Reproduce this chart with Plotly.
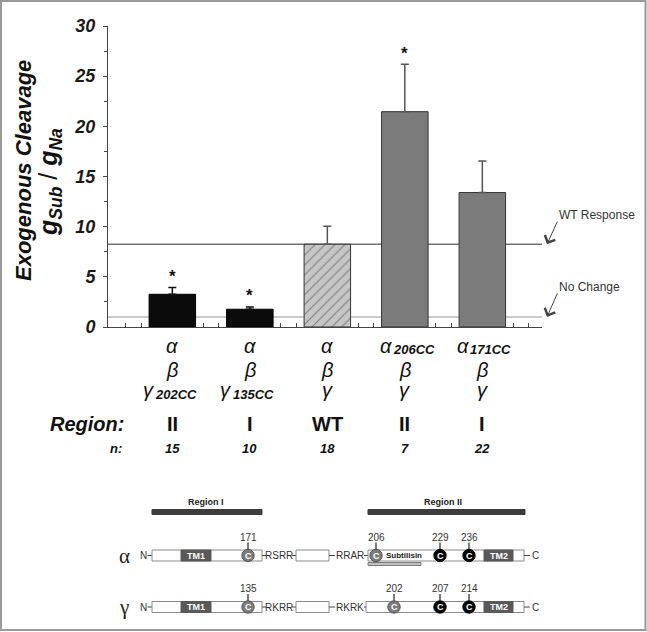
import plotly.graph_objects as go

# ---------------- data ----------------
x_pos = [0, 1, 2, 3, 4]
top_base = ["α", "α", "α", "α", "α"]
top_sub = ["", "", "", "206CC", "171CC"]
mid_labels = ["β", "β", "β", "β", "β"]
bottom_base = ["γ", "γ", "γ", "γ", "γ"]
bottom_sub = ["202CC", "135CC", "", "", ""]
region_labels = ["II", "I", "WT", "II", "I"]
n_labels = ["15", "10", "18", "7", "22"]
ratio_mean = [3.26, 1.77, 8.25, 21.46, 13.40]
ratio_sem = [0.67, 0.23, 1.80, 4.74, 3.15]
significant = [True, True, False, True, False]
bar_style = ["black", "black", "wt", "gray", "gray"]
wt_response = 8.25
no_change = 1.0

alpha_linkers = ["RSRR", "RRAR"]
gamma_linkers = ["RKRR", "RKRK"]
alpha_sites = ["171", "206", "229", "236"]
gamma_sites = ["135", "202", "207", "214"]
site_kind = ["mutated", "mutated", "native", "native"]

# ---------------- layout constants ----------------
W, H = 647, 632
PX_L, PX_R, PX_T, PX_B = 108, 542, 26, 327
ARIAL = "Arial, Liberation Sans, sans-serif"
SERIF = "Times New Roman, Liberation Serif, DejaVu Serif, serif"

fig = go.Figure()

styles = {
    "black": dict(color="#0b0b0b", line="#000000", err="#111111", pattern=False),
    "wt": dict(color="#c6c6c6", line="#333333", err="#555555", pattern=True),
    "gray": dict(color="#7b7b7b", line="#333333", err="#555555", pattern=False),
}
for i in range(len(x_pos)):
    s = styles[bar_style[i]]
    marker = dict(color=s["color"], line=dict(color=s["line"], width=1))
    if s["pattern"]:
        marker["pattern"] = dict(shape="/", fgcolor="#333333", size=7,
                                 solidity=0.15, fillmode="overlay")
    fig.add_trace(go.Bar(
        x=[x_pos[i]], y=[ratio_mean[i]], width=0.6, marker=marker,
        error_y=dict(type="data", array=[ratio_sem[i]], arrayminus=[0],
                     symmetric=False, color=s["err"], thickness=1.5, width=4),
        xaxis="x", yaxis="y", showlegend=False, hoverinfo="skip"))

fig.add_trace(go.Scatter(x=[0], y=[0], mode="markers", marker=dict(opacity=0),
                         xaxis="x2", yaxis="y2", showlegend=False, hoverinfo="skip"))

shapes = []
annotations = []

shapes.append(dict(type="line", xref="x domain", yref="y", x0=0, x1=1,
                   y0=wt_response, y1=wt_response, layer="below",
                   line=dict(color="#707070", width=1.5)))
shapes.append(dict(type="line", xref="x domain", yref="y", x0=0, x1=1,
                   y0=no_change, y1=no_change, layer="below",
                   line=dict(color="#cacaca", width=2)))

for i in range(len(x_pos)):
    if significant[i]:
        annotations.append(dict(x=x_pos[i], y=ratio_mean[i] + ratio_sem[i], xref="x", yref="y",
                                text="<b>*</b>", showarrow=False, yshift=11,
                                font=dict(family=ARIAL, size=17, color="#111")))

for label, val, dy in [("WT Response", wt_response, 29), ("No Change", no_change, 30)]:
    annotations.append(dict(x=547 / W, y=val, xref="paper", yref="y", text="",
                            showarrow=True, ax=11, ay=-dy + 5, arrowhead=4,
                            arrowsize=2.2, arrowwidth=1, arrowcolor="#444"))
    annotations.append(dict(x=557 / W, y=val, xref="paper", yref="y", text=label,
                            showarrow=False, xanchor="left", yshift=dy,
                            font=dict(family=ARIAL, size=12, color="#333")))

annotations.append(dict(x=23, y=171, xref="x2", yref="y2", textangle=-90, showarrow=False,
                        text="<b><i>Exogenous Cleavage</i></b>",
                        font=dict(family=ARIAL, size=22, color="#111")))
annotations.append(dict(x=50, y=182, xref="x2", yref="y2", textangle=-90, showarrow=False,
                        text="<b><i>g<sub>Sub</sub></i></b> / <b><i>g<sub>Na</sub></i></b>",
                        font=dict(family=ARIAL, size=25, color="#111")))


def cat_label(i, base, sub, ypx, sub_ypx, base_shift):
    if sub:
        annotations.append(dict(x=x_pos[i], y=ypx, xref="x", yref="y2", showarrow=False,
                                xanchor="center", xshift=base_shift, text="<i>" + base + "</i>",
                                font=dict(family=ARIAL, size=20, color="#111")))
        annotations.append(dict(x=x_pos[i], y=sub_ypx, xref="x", yref="y2", showarrow=False,
                                xanchor="left", xshift=base_shift + 5,
                                text="<b><i>" + sub + "</i></b>",
                                font=dict(family=ARIAL, size=13, color="#111")))
    else:
        annotations.append(dict(x=x_pos[i], y=ypx, xref="x", yref="y2", showarrow=False,
                                text="<i>" + base + "</i>",
                                font=dict(family=ARIAL, size=20, color="#111")))


for i in range(len(x_pos)):
    cat_label(i, top_base[i], top_sub[i], 346, 349, -19)
    annotations.append(dict(x=x_pos[i], y=370, xref="x", yref="y2", showarrow=False,
                            text="<i>" + mid_labels[i] + "</i>",
                            font=dict(family=ARIAL, size=20, color="#111")))
    cat_label(i, bottom_base[i], bottom_sub[i], 390, 394, -24)
    annotations.append(dict(x=x_pos[i], y=424, xref="x", yref="y2", showarrow=False,
                            text="<b>" + region_labels[i] + "</b>",
                            font=dict(family=ARIAL, size=20, color="#111")))
    annotations.append(dict(x=x_pos[i], y=448, xref="x", yref="y2", showarrow=False,
                            text="<b><i>" + n_labels[i] + "</i></b>",
                            font=dict(family=ARIAL, size=13, color="#111")))
annotations.append(dict(x=126, y=424, xref="x2", yref="y2", showarrow=False, xanchor="right",
                        text="<b><i>Region:</i></b>", font=dict(family=ARIAL, size=20, color="#111")))
annotations.append(dict(x=124, y=448, xref="x2", yref="y2", showarrow=False, xanchor="right",
                        text="<b><i>n:</i></b>", font=dict(family=ARIAL, size=13, color="#111")))


def rect(x0, x1, y0, y1, fill, line, w=1):
    shapes.append(dict(type="rect", xref="x2", yref="y2", x0=x0, x1=x1, y0=y0, y1=y1,
                       fillcolor=fill, line=dict(color=line, width=w)))


def seg(x0, y0, x1, y1, color="#444", w=1):
    shapes.append(dict(type="line", xref="x2", yref="y2", x0=x0, x1=x1, y0=y0, y1=y1,
                       line=dict(color=color, width=w)))


def txt(x, y, s, size, color="#333", family=ARIAL, xanchor="center"):
    annotations.append(dict(x=x, y=y, xref="x2", yref="y2", text=s, showarrow=False,
                            xanchor=xanchor, yanchor="middle",
                            font=dict(family=family, size=size, color=color)))


def circle(xc, yc, r, fill, line):
    shapes.append(dict(type="circle", xref="x2", yref="y2", x0=xc - r, x1=xc + r,
                       y0=yc - r, y1=yc + r, fillcolor=fill, line=dict(color=line, width=1)))


rect(152, 262, 509.5, 514.5, "#3c3c3c", "#3c3c3c")
rect(368, 525, 509.5, 514.5, "#3c3c3c", "#3c3c3c")
txt(206, 502, "<b>Region I</b>", 9, "#222")
txt(443, 502, "<b>Region II</b>", 9, "#222")

rows = [
    ("α", 555.5, alpha_linkers, alpha_sites, [248, 376, 440, 469], 368),
    ("γ", 607.0, gamma_linkers, gamma_sites, [248, 394, 440, 469], 366),
]
hh = 5.5
for name, yc, linkers, sites, cx, b3 in rows:
    txt(124, yc, name, 21, "#222", SERIF)
    txt(143.5, yc, "N", 10)
    seg(147.5, yc, 152, yc)
    rect(152, 262, yc - hh, yc + hh, "white", "#8a8a8a")
    rect(181, 211, yc - hh, yc + hh, "#595959", "#595959")
    txt(196, yc, "<b>TM1</b>", 9, "white")
    seg(262, yc, 266, yc)
    txt(279, yc, linkers[0], 10)
    seg(292, yc, 296, yc)
    rect(296, 329, yc - hh, yc + hh, "white", "#8a8a8a")
    seg(329, yc, 335, yc)
    txt(349.5, yc, linkers[1], 10)
    seg(364, yc, b3, yc)
    rect(b3, 524, yc - hh, yc + hh, "white", "#8a8a8a")
    rect(484, 513, yc - hh, yc + hh, "#595959", "#595959")
    txt(498.5, yc, "<b>TM2</b>", 9, "white")
    seg(524, yc, 530, yc)
    txt(535, yc, "C", 10)
    if name == "α":
        rect(368, 421, 562.5, 565.5, "#c0c0c0", "#7a7a7a")
        txt(384, yc, "<b>Subtilisin</b>", 8, "#222", xanchor="left")
    for j in range(len(sites)):
        fill = "#7d7d7d" if site_kind[j] == "mutated" else "#060606"
        seg(cx[j], yc - 6, cx[j], yc - 13, "#333", 1.3)
        txt(cx[j], yc - 18.5, sites[j], 10, "#333")
        circle(cx[j], yc, 6.2, fill, "#555" if site_kind[j] == "mutated" else "#000")
        txt(cx[j], yc, "<b>C</b>", 9, "white")

rect(1, 645.5, 1, 630, "rgba(0,0,0,0)", "#9a9a9a", 2)

fig.update_layout(
    width=W, height=H, autosize=False,
    margin=dict(l=0, r=0, t=0, b=0, pad=0, autoexpand=False),
    paper_bgcolor="white", plot_bgcolor="rgba(0,0,0,0)",
    barmode="overlay", showlegend=False,
    shapes=shapes, annotations=annotations,
    xaxis=dict(domain=[PX_L / W, PX_R / W], range=[-0.83, 4.77], anchor="y",
               automargin=False,
               showline=True, linecolor="#444", linewidth=1, showgrid=False, zeroline=False,
               ticks="inside", ticklen=4, tickcolor="#444",
               tickvals=[k + d for k in range(-1, 5) for d in (0.4, 0.6)],
               showticklabels=False, fixedrange=True),
    yaxis=dict(domain=[1 - PX_B / H, 1 - PX_T / H], range=[0, 30], anchor="x",
               automargin=False,
               showline=True, linecolor="#444", linewidth=1, showgrid=False, zeroline=False,
               ticks="outside", ticklen=4, tickcolor="#444", dtick=5, tick0=0,
               ticklabelstandoff=4,
               minor=dict(dtick=2.5, ticks="outside", ticklen=3, tickcolor="#444", showgrid=False),
               tickfont=dict(family=ARIAL, size=18, color="#1a1a1a", weight="bold", style="italic"),
               fixedrange=True),
    xaxis2=dict(domain=[0, 1], range=[0, W], anchor="y2", visible=False, fixedrange=True,
                automargin=False),
    yaxis2=dict(domain=[0, 1], range=[H, 0], anchor="x2", visible=False, fixedrange=True,
                automargin=False),
)

reset_css = "document.body.style.margin='0px';document.body.style.overflow='hidden';"
fig.write_html("out.html", config={"displayModeBar": False},
               post_script=reset_css + "}); " + reset_css + " (function(){")
